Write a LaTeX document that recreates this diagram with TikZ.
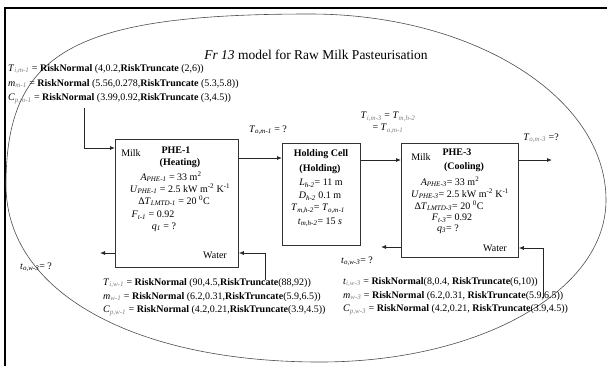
\documentclass[tikz,border=0pt]{standalone}
\usepackage{fontspec}
\setmainfont{Liberation Serif}
\usetikzlibrary{arrows.meta}
\newcommand{\gs}[1]{\textsubscript{\textcolor{gray}{\itshape #1}}}
\newcommand{\ks}[1]{\textsubscript{\itshape #1}}
\newcommand{\sps}[1]{\textsuperscript{#1}}
\begin{document}
\begin{tikzpicture}[x=1pt,y=-1pt,
  txt/.style={inner sep=0pt, font=\fontsize{10}{12}\selectfont},
  ltxt/.style={txt, anchor=west},
  boxst/.style={draw=black!80, line width=0.8pt, anchor=north west, inner sep=0pt},
  arr/.style={-{Latex[length=5pt,width=4pt]}, line width=0.8pt, draw=black!85},
  oval/.style={draw=black!70, line width=0.6pt}]
\useasboundingbox (0,0) rectangle (607,365);
% frame and oval
\draw[line width=2pt] (5,366) -- (5,8) -- (607,8);
\draw[oval] (310,14) .. controls (73,14) and (6,52) .. (6,185)
  .. controls (6,291) and (132,362) .. (320,362)
  .. controls (478,362) and (606,292) .. (606,200)
  .. controls (606,97) and (473,14) .. (310,14) -- cycle;
% title
\node[txt, font=\fontsize{13.5}{16}\selectfont] (title) at (316,55) {\textit{Fr 13} model for Raw Milk Pasteurisation};
% top-left inputs
\node[ltxt] (tim1) at (8,69) {\textit{T}\gs{i,m-1} = \textbf{RiskNormal} (4,0.2,\textbf{RiskTruncate} (2,6))};
\node[ltxt] (mm1) at (8,84) {\textit{m}\gs{m-1} = \textbf{RiskNormal} (5.56,0.278,\textbf{RiskTruncate} (5.3,5.8))};
\node[ltxt] (cpm1) at (8,99) {\textit{C}\gs{p,m-1} = \textbf{RiskNormal} (3.99,0.92,\textbf{RiskTruncate} (3,4.5))};
% boxes
\node[boxst, minimum width=123pt, minimum height=128pt] (phe1) at (115,139) {};
\node[boxst, minimum width=78pt, minimum height=102pt] (hold) at (282,143) {};
\node[boxst, minimum width=117pt, minimum height=114pt] (phe3) at (401,143) {};
% PHE-1 text
\node[txt] (p1milk) at (131,153) {Milk};
\node[txt] (p1name) at (176,150) {\textbf{PHE-1}};
\node[txt] (p1kind) at (180,163) {\textbf{(Heating)}};
\node[txt] (p1a) at (171,177) {\textit{A}\ks{PHE-1} = 33 m\sps{2}};
\node[txt] (p1u) at (180,189) {\textit{U}\ks{PHE-1} = 2.5 kW m\sps{-2} K\sps{-1}};
\node[txt] (p1t) at (174,201) {Δ\textit{T}\ks{LMTD-1} = 20 \sps{0}C};
\node[txt] (p1f) at (153,215) {\textit{F}\ks{t-1} = 0.92};
\node[txt] (p1q) at (164,227) {\textit{q}\ks{1} = ?};
\node[txt] (p1w) at (215,255) {Water};
% Holding text
\node[txt] (hname) at (321,154) {\textbf{Holding Cell}};
\node[txt] (hkind) at (320,169) {\textbf{(Holding)}};
\node[txt] (hl) at (321,183) {\textit{L}\ks{h-2}= 11 m};
\node[txt] (hd) at (320,196) {\textit{D}\ks{h-2} 0.1 m};
\node[txt] (ht) at (318,209) {\textit{T}\ks{m,h-2}= \textit{T}\ks{o,m-1}};
\node[txt] (htm) at (320,222) {\textit{t}\ks{m,h-2}= 15 \textit{s}};
% PHE-3 text
\node[txt] (p3milk) at (421,157) {Milk};
\node[txt] (p3name) at (457,152) {\textbf{PHE-3}};
\node[txt] (p3kind) at (464,167) {\textbf{(Cooling)}};
\node[txt] (p3a) at (450,182) {\textit{A}\ks{PHE-3}= 33 m\sps{2}};
\node[txt] (p3u) at (460,194) {\textit{U}\ks{PHE-3}= 2.5 kW m\sps{-2} K\sps{-1}};
\node[txt] (p3t) at (449,206) {Δ\textit{T}\ks{LMTD-3}= 20 \sps{0}C};
\node[txt] (p3f) at (452,218) {\textit{F}\ks{t-3}= 0.92};
\node[txt] (p3q) at (448,229) {\textit{q}\ks{3}= ?};
\node[txt] (p3w) at (495,248) {Water};
% outside labels
\node[txt] (tom1) at (268,130) {\textit{T}\ks{o,m-1} = ?};
\node[txt] (tim3a) at (388,117) {\textit{T}\gs{i,m-3} = \textit{T}\gs{m,h-2}};
\node[txt] (tim3b) at (388,129) {= \textit{T}\gs{o,m-1}};
\node[txt] (tom3) at (541,138) {\textit{T}\gs{o,m-3} =?};
\node[txt] (tow1) at (36,267) {\textit{t}\ks{o,w-3}= ?};
\node[txt] (tow3) at (357,261) {\textit{t}\ks{o,w-3}= ?};
% bottom-left inputs
\node[ltxt] (tiw1) at (103,283) {\textit{T}\gs{i,w-1} = \textbf{RiskNormal} (90,4.5,\textbf{RiskTruncate}(88,92))};
\node[ltxt] (mw1) at (103,297) {\textit{m}\gs{w-1} = \textbf{RiskNormal} (6.2,0.31,\textbf{RiskTruncate}(5.9,6.5))};
\node[ltxt] (cpw1) at (103,311) {\textit{C}\gs{p,w-1} = \textbf{RiskNormal} (4.2,0.21,\textbf{RiskTruncate}(3.9,4.5))};
% bottom-right inputs
\node[ltxt] (tiw3) at (343,282) {\textit{t}\gs{i,w-3} = \textbf{RiskNormal}(8,0.4, \textbf{RiskTruncate}(6,10))};
\node[ltxt] (mw3) at (343,296) {\textit{m}\gs{w-3} = \textbf{RiskNormal} (6.2,0.31, \textbf{RiskTruncate}(5.9,6.5))};
\node[ltxt] (cpw3) at (343,310) {\textit{C}\gs{p,w-3} = \textbf{RiskNormal} (4.2,0.21, \textbf{RiskTruncate}(3.9,4.5))};
% connector endpoints
\coordinate (milkin) at (84,108);
\coordinate (p1win) at (265,280);
\coordinate (p1wout) at (100,253);
\coordinate (p3win) at (543,298);
\coordinate (p3wout) at (381,247);
\coordinate (milkout) at (552,160);
% connectors
\draw[arr] (milkin) |- (phe1.west |- 0,148);
\draw[arr] (phe1.east |- 0,158) -- (hold.west |- 0,158);
\draw[arr] (hold.east |- 0,160) -- (phe3.west |- 0,160);
\draw[arr] (phe3.east |- milkout) -- (milkout);
\draw[arr] (p1win) |- (phe1.east |- 0,253);
\draw[arr] (phe1.west |- p1wout) -- (p1wout);
\draw[arr] (p3win) |- (phe3.east |- 0,248);
\draw[arr] (phe3.west |- p3wout) -- (p3wout);
\end{tikzpicture}
\end{document}
